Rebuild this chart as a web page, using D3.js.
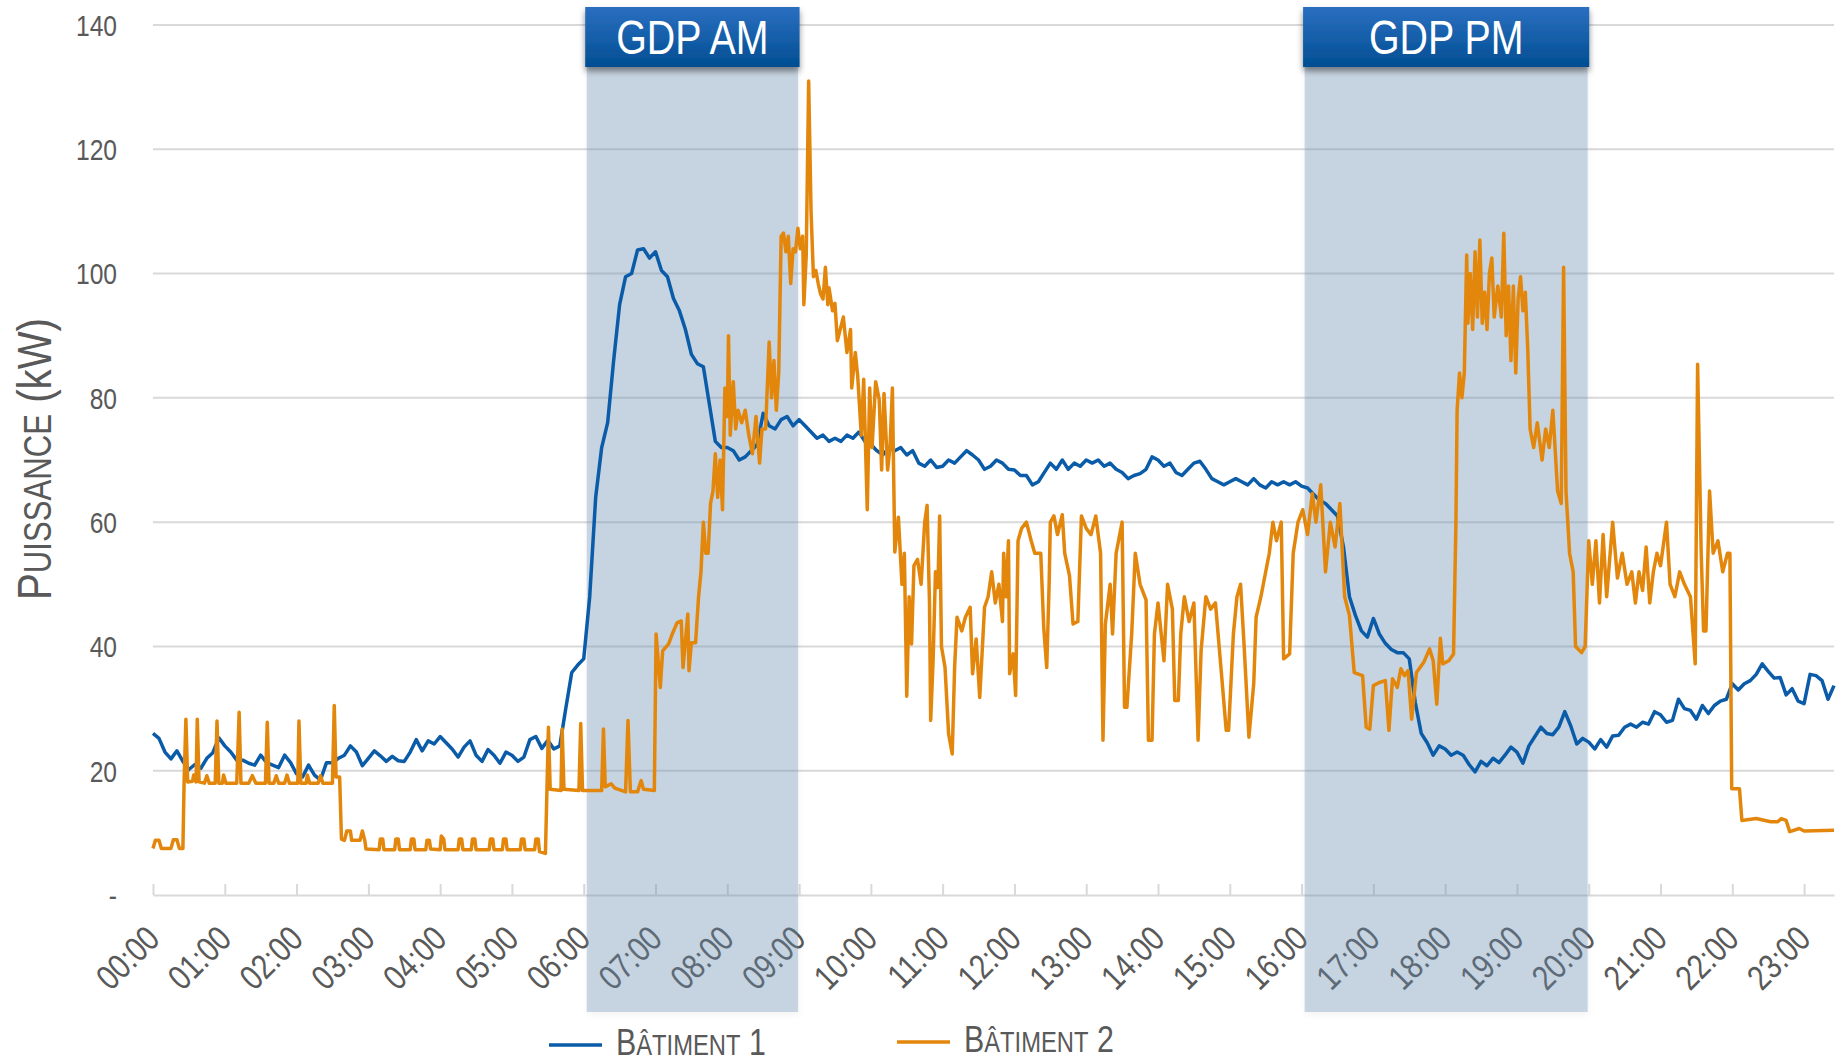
<!DOCTYPE html>
<html>
<head>
<meta charset="utf-8">
<script src="https://cdnjs.cloudflare.com/ajax/libs/d3/7.8.5/d3.min.js"></script>
<style>
  body { margin: 0; background: #fff; }
  svg { display: block; }
  text { font-family: 'Liberation Sans', Arial, sans-serif; fill: #595959; }
</style>
</head>
<body>
<svg id="chart" width="1843" height="1064"></svg>
<script>
// axis ticks
const hourTicks = d3.range(0, 24);
const hourLabels = hourTicks.map(h => String(h).padStart(2, '0') + ':00');
const kwTicks = [0, 20, 40, 60, 80, 100, 120, 140];
const kwLabels = ['-', '20', '40', '60', '80', '100', '120', '140'];

// peak periods (minutes of the day)
const gdpNames = ['GDP AM', 'GDP PM'];
const gdpFrom = [360, 960];
const gdpTo = [540, 1200];

const seriesNames = ['Bâtiment 1', 'Bâtiment 2'];
const seriesColors = ['#0a5ba8', '#e3870c'];

// Bâtiment 1 : one reading every 5 minutes from 00:00
const b1Kw = [
  26, 25.2, 23, 21.9, 23.2, 21.5, 20.2, 21, 20.4, 22, 22.9, 25.3,
  24, 23, 21.7, 21.7, 21.2, 20.9, 22.5, 21.3, 20.9, 20.5, 22.5, 21.3,
  19.5, 19, 20.9, 19.3, 18.5, 21.3, 21.3, 22, 22.5, 24, 23, 20.8,
  22, 23.2, 22.4, 21.5, 22.3, 21.6, 21.5, 23, 25, 23.2, 24.8, 24.3,
  25.5, 24.5, 23.5, 22.2, 23.8, 24.8, 22.5, 21.5, 23.4, 22.5, 21.2, 23,
  22.5, 21.5, 22.2, 25, 25.5, 23.6, 24.9, 23.5, 24, 30, 35.8, 37,
  38, 48, 64, 72, 76, 86, 95, 99.5, 100, 103.8, 104, 102.5,
  103.5, 100.5, 99.5, 96, 94, 91, 87, 85.5, 85, 79, 73, 72,
  72, 71.5, 70, 70.5, 71.5, 72.5, 77.5, 75.5, 75, 76.5, 77, 75.5,
  76.5, 75.5, 74.5, 73.5, 74, 73, 73.5, 73, 74, 73.5, 74.5, 73,
  72.5, 71.5, 70.8, 72, 71.5, 72, 70.8, 71.5, 69.5, 69, 70, 68.8,
  69, 70, 69.5, 70.5, 71.5, 70.8, 70, 68.5, 69, 70, 69.5, 68.5,
  68.4, 67.5, 67.5, 66, 66.5, 68, 69.5, 68.5, 70, 68.5, 69.5, 69,
  70, 69.5, 70, 69, 69.5, 68.5, 68, 67, 67.5, 67.8, 68.5, 70.5,
  70, 69, 69.5, 68, 67.5, 68.5, 69.5, 69.8, 68.5, 67, 66.5, 66,
  66.5, 67, 66.5, 66, 67, 66, 65.5, 66.5, 66, 66.5, 66, 66.5,
  65.8, 65.5, 64.5, 63.5, 63, 62, 61, 56, 48, 45, 42.5, 41.5,
  44.5, 42, 40.5, 39.5, 39, 39, 38, 31, 26, 24.5, 22.5, 24,
  23.5, 22.5, 23, 22.5, 21, 19.8, 21.5, 20.8, 22, 21.3, 22.5, 23.8,
  23, 21.2, 24, 25.5, 27, 26, 25.8, 27, 29.5, 27.2, 24.3, 25.2,
  24.6, 23.5, 25, 23.8, 25.6, 25.7, 27, 27.5, 27, 27.8, 27.5, 29.5,
  29, 27.8, 28.1, 31.5, 30, 29.7, 28.3, 30.5, 29.2, 30.5, 31.2, 31.5,
  34, 33, 34, 34.5, 35.5, 37.2, 36, 34.9, 35, 32.2, 33.2, 31.2,
  30.8, 35.5, 35.3, 34.5, 31.5, 33.7
];

// Bâtiment 2 : minute of the day and reading
const b2Min = [
  0, 2, 5, 7, 15, 17, 20, 22, 25, 26, 27.5, 29, 33, 34, 36, 37, 38.5, 43, 45, 47, 52, 53.5, 55, 58, 59,
  61, 70, 72, 73.5, 80, 83, 86, 94, 95.5, 97, 101, 103, 105, 110, 112, 114, 121, 122, 123.5, 128,
  129, 131, 138, 140, 142, 150, 151.5, 153, 156, 157.5, 160, 162, 165, 166, 173, 175, 177, 178,
  189, 190, 192, 193, 202, 203, 205, 206, 215, 216, 218, 219, 228, 229, 231, 232, 240, 241, 243, 244,
  255, 256, 258, 259, 266, 267, 269, 270, 281, 282, 284, 285, 292, 293, 295, 296, 307, 308, 310, 311,
  319, 320, 322, 323, 328,
  330.5, 332, 341, 342, 343.5, 356, 357.5, 359, 375, 376.5, 378, 383, 386, 395, 397, 399, 405, 408, 410, 419,
  420.5, 424, 426, 431, 434, 438, 441.5, 443, 447, 448, 450, 453.5, 456, 458, 460, 462, 464, 466, 468, 470,
  472, 474, 476, 478, 480, 481, 482.5, 485, 487, 489, 492, 495, 498, 501, 504, 507, 509, 512, 515, 517,
  519, 521, 523,
  525, 527, 529, 531, 533, 535, 537, 539, 541, 543, 544, 546, 548, 550, 552, 554, 556, 558, 560, 562,
  564, 565, 568, 570, 572, 577, 580, 583, 584, 587, 589, 592, 594, 597, 599, 601, 604, 607, 609, 611,
  614, 616, 618, 620, 623, 626, 628,
  630, 632, 634, 636, 639, 642, 645, 647, 649, 650, 652, 654, 656, 657.5, 659, 662, 665, 668, 670, 672,
  676, 679, 683, 685, 688, 691, 695, 698, 701, 704, 707, 710, 711, 713, 715, 716, 719,
  721, 723, 726, 730, 734, 737, 742, 744.5, 747, 749, 750, 753, 756, 760, 762, 766, 769, 773, 776, 780,
  784, 788, 792, 794, 796, 800, 802, 805, 808, 810, 812, 814, 818, 821, 825, 830, 832, 835, 837, 840,
  845, 848, 852, 854, 857, 859, 862, 866, 870, 873.5, 876, 880, 884, 888, 894, 897, 899,
  903, 906, 909, 912, 916, 920, 922, 926, 928, 933, 936, 939, 943, 945, 950, 953, 957, 961, 965, 969,
  972, 976, 980, 984, 988, 992, 996, 1000, 1004, 1011, 1014, 1017, 1020, 1025, 1030, 1033, 1036, 1040, 1043, 1046,
  1049, 1052, 1056, 1059, 1062, 1067, 1070, 1073, 1076, 1078, 1083, 1087,
  1089, 1090, 1092, 1094, 1096, 1098, 1099, 1101, 1103, 1105, 1107, 1109, 1111, 1113, 1115, 1117, 1119, 1121, 1124, 1127,
  1129, 1131, 1133, 1135, 1137, 1139, 1141, 1143, 1145, 1147, 1149, 1151, 1154, 1157, 1161, 1164, 1167, 1170, 1174, 1177,
  1179, 1181, 1184, 1187, 1189, 1194, 1197,
  1200, 1203, 1206, 1209, 1212, 1215, 1220, 1224, 1228, 1232, 1236, 1239, 1242, 1245, 1248, 1251, 1254, 1257, 1260, 1265,
  1268, 1272, 1276, 1280, 1285, 1289, 1291, 1294, 1296, 1298, 1301, 1304, 1308, 1312, 1316, 1318, 1319.5, 1326, 1328, 1340,
  1352, 1358, 1361, 1365, 1368, 1376, 1380, 1405
];
const b2Kw = [
  7.5, 8.8, 8.8, 7.5, 7.5, 8.9, 8.9, 7.5, 7.5, 18.2, 28.3, 18.2, 18.3, 19.3, 18.2, 28.3, 18.2, 18, 19.2, 18, 18, 28, 18, 18, 19.3,
  18, 18, 29.4, 18, 18, 19.2, 18, 18, 27.8, 18, 18, 19.2, 18, 18, 19.3, 18, 18, 28, 18, 18,
  19.3, 18, 18, 19.2, 18, 18, 30.5, 19, 19, 9, 8.8, 10.3, 10.3, 8.8, 8.8, 10.3, 8.8, 7.4,
  7.3, 9, 9, 7.3, 7.3, 9, 9, 7.3, 7.3, 9, 9, 7.3, 7.3, 8.8, 8.8, 7.4, 7.3, 9.5, 9, 7.3,
  7.3, 9, 9, 7.3, 7.3, 9, 9, 7.3, 7.3, 9, 9, 7.3, 7.3, 9, 9, 7.3, 7.3, 9, 9, 7.3,
  7.3, 9, 9, 7, 6.7,
  27, 17, 16.8, 26.7, 17, 16.8, 27.6, 16.8, 16.8, 26.7, 17.4, 17.9, 17.2, 16.6, 28.1, 16.6, 16.6, 18.4, 17, 16.8,
  42, 33.4, 39.3, 40.4, 42, 43.8, 44.1, 36.6, 45.2, 36.1, 40.6, 40.6, 48, 52, 60, 55, 55, 63, 65, 71,
  64, 70, 62, 81.6, 77, 90, 74, 82.6, 75, 78, 76, 78, 74, 71, 77, 69.5, 75, 75, 89, 80,
  86, 78, 84,
  106, 106.5, 103.5, 106, 98.4, 104, 103.5, 107.3, 104, 106, 95, 103, 131, 110, 99.5, 100.5, 98.4, 96.7, 95.9, 101,
  95, 97.7, 94, 95.2, 89.2, 93, 87.3, 91, 81.6, 87.3, 83.5, 74, 83, 62, 81.6, 72, 82.6, 79.7, 68.4, 80.7,
  68.4, 72, 81.6, 55.2, 60.8, 50, 55,
  32, 48, 40.4, 53, 54, 50, 60, 62.7, 47, 28.1, 37.7, 52, 49.5, 61, 40, 36.6, 25.9, 22.7, 36.6, 44.7,
  42.5, 44.7, 46.3, 35.6, 41.2, 31.8, 46.3, 48, 52, 47, 50, 44, 55, 48, 57, 35.6, 38.8,
  32.1, 57, 59, 60, 57, 55, 55, 43, 36.6, 50, 60, 61, 58, 61.2, 55, 51.4, 43.6, 44, 61, 59,
  58, 61, 55, 24.9, 43.6, 50, 42, 55, 58, 60, 30.2, 30.2, 42, 55, 50, 47.5, 24.9, 24.9, 42, 47,
  37.7, 50, 46, 31.3, 31.3, 42, 48, 44, 47, 24.9, 39.3, 48, 46, 47, 33.4, 26.5, 26.5,
  42, 48, 50, 40, 25.4, 34, 44.7, 48, 50, 55, 60, 57, 60, 38, 38.8, 55, 60, 62, 58, 64.6,
  60, 66, 52, 60, 56, 63, 48, 45, 35.8, 35.3, 27, 26.7, 33.7, 34.2, 34.5, 26.5, 34.8, 33.4, 36.4, 35.3,
  36.1, 28.3, 35.8, 36.6, 37.4, 39.6, 37.7, 30.7, 41.3, 37.2, 37.7, 38.8,
  60, 78, 84, 80, 84, 103, 92, 100, 91, 103.5, 93, 105.4, 92, 97, 91, 100, 102.5, 93, 98, 93,
  106.5, 90, 98, 86, 98, 84, 96, 99.5, 94, 97, 88, 75, 72, 76, 70, 75, 72, 78, 65, 63,
  101, 65, 55, 52, 40, 39, 40,
  57, 50, 57, 47, 58, 48, 60, 51, 55, 50, 52, 47, 52, 49, 56, 47, 52, 55, 53, 60,
  50, 48, 52, 50, 48, 37.2, 85.4, 55, 42.5, 42.5, 65, 55, 57, 52, 55, 55, 17.1, 17.1, 12, 12.3,
  11.8, 11.8, 12.3, 12, 10.2, 10.7, 10.3, 10.4
];

if (b2Min.length !== b2Kw.length) console.error('b2 arrays differ', b2Min.length, b2Kw.length);

// the chart font is a narrow one: squeeze Liberation Sans horizontally
const narrow = 'scale(0.82,1)';

const svg = d3.select('#chart');
const x = d3.scaleLinear().domain([0, 1405]).range([153, 1834]);
const y = d3.scaleLinear().domain([0, 140]).range([895, 25]);

// defs: box gradient and shadows
const defs = svg.append('defs');
const grad = defs.append('linearGradient').attr('id', 'gdpFill')
    .attr('x1', 0).attr('y1', 0).attr('x2', 0).attr('y2', 1);
grad.append('stop').attr('offset', '0%').attr('stop-color', '#2b6fc1');
grad.append('stop').attr('offset', '100%').attr('stop-color', '#004e92');
defs.append('filter').attr('id', 'boxShadow').attr('x', '-10%').attr('y', '-20%').attr('width', '120%').attr('height', '160%')
    .append('feDropShadow').attr('dx', 0).attr('dy', 4).attr('stdDeviation', 3)
    .attr('flood-color', '#000').attr('flood-opacity', 0.45);
defs.append('filter').attr('id', 'bandShadow').attr('x', '-10%').attr('y', '-5%').attr('width', '120%').attr('height', '110%')
    .append('feDropShadow').attr('dx', 1).attr('dy', 3).attr('stdDeviation', 3)
    .attr('flood-color', '#000').attr('flood-opacity', 0.12);

// horizontal gridlines
svg.append('g').selectAll('line')
    .data(kwTicks.filter(v => v > 0))
    .join('line')
    .attr('x1', x(0)).attr('x2', x(1405))
    .attr('y1', d => y(d)).attr('y2', d => y(d))
    .attr('stroke', '#d9d9d9').attr('stroke-width', 2);

// x axis
const xAxis = d3.axisBottom(x)
    .tickValues(hourTicks.map(h => h * 60))
    .tickFormat((d, i) => hourLabels[i])
    .tickSizeInner(-11).tickSizeOuter(0);
const gx = svg.append('g').attr('transform', `translate(0,${y(0)})`).call(xAxis);
gx.select('.domain').attr('stroke', '#d9d9d9').attr('stroke-width', 2);
gx.selectAll('.tick line').attr('stroke', '#d9d9d9').attr('stroke-width', 2);
gx.selectAll('.tick text')
    .attr('x', 0).attr('y', 0).attr('dy', 0)
    .attr('transform', 'translate(8,46) rotate(-45) ' + narrow)
    .attr('text-anchor', 'end')
    .style('font-size', '35px')
    .attr('fill', '#595959');

// y labels
svg.append('g').selectAll('text')
    .data(kwTicks)
    .join('text')
    .attr('transform', d => `translate(117,${y(d)}) ${narrow}`)
    .attr('dy', '0.36em')
    .attr('text-anchor', 'end')
    .style('font-size', '30px')
    .text((d, i) => kwLabels[i]);

// y title in small caps
const title = svg.append('text')
    .attr('transform', 'translate(51,459) rotate(-90) ' + narrow)
    .attr('text-anchor', 'middle');
title.append('tspan').style('font-size', '49px').text('P');
title.append('tspan').style('font-size', '38px').text('UISSANCE');
title.append('tspan').style('font-size', '49px').text(' (kW)');

// peak period bands
const bands = svg.append('g').selectAll('g')
    .data(gdpNames)
    .join('g');
bands.append('rect')
    .attr('x', (d, i) => x(gdpFrom[i]) + 3)
    .attr('width', (d, i) => x(gdpTo[i]) - x(gdpFrom[i]) - 4)
    .attr('y', 60).attr('height', 1012 - 60)
    .attr('fill', '#6a8daf').attr('fill-opacity', 0.34)
    .attr('filter', 'url(#bandShadow)');

// lines
const line = d3.line().x(d => x(d.m)).y(d => y(d.kw));
const b1 = b1Kw.map((v, i) => ({ m: i * 5, kw: v }));
const b2 = b2Kw.map((v, i) => ({ m: b2Min[i], kw: v }));
svg.append('g').selectAll('path')
    .data([b1, b2])
    .join('path')
    .attr('d', line)
    .attr('fill', 'none')
    .attr('stroke', (d, i) => seriesColors[i])
    .attr('stroke-width', 3.5)
    .attr('stroke-linejoin', 'round');

// peak period labels
const boxes = svg.append('g').selectAll('g')
    .data(gdpNames)
    .join('g');
boxes.append('rect')
    .attr('x', (d, i) => x(gdpFrom[i]) + 1.5)
    .attr('width', (d, i) => x(gdpTo[i]) - x(gdpFrom[i]) - 1)
    .attr('y', 7).attr('height', 60)
    .attr('fill', 'url(#gdpFill)')
    .attr('filter', 'url(#boxShadow)');
boxes.append('text')
    .attr('transform', (d, i) => `translate(${(x(gdpFrom[i]) + x(gdpTo[i])) / 2 + 1},54) ${narrow}`)
    .attr('text-anchor', 'middle')
    .style('font-size', '48px')
    .style('fill', '#fff')
    .text(d => d);

// legend
const legendX = [549, 897];
const legendY = [1045, 1042];
const legend = svg.append('g').selectAll('g')
    .data(seriesNames)
    .join('g')
    .attr('transform', (d, i) => `translate(${legendX[i]},${legendY[i]})`);
legend.append('line')
    .attr('x1', 0).attr('x2', 53)
    .attr('stroke', (d, i) => seriesColors[i])
    .attr('stroke-width', 3.5);
const lt = legend.append('text').attr('transform', 'translate(67,10) ' + narrow);
lt.append('tspan').style('font-size', '37px').text(d => d[0]);
lt.append('tspan').style('font-size', '29px').text(d => d.slice(1, -2).toUpperCase());
lt.append('tspan').style('font-size', '37px').text(d => d.slice(-2));
</script>
</body>
</html>
